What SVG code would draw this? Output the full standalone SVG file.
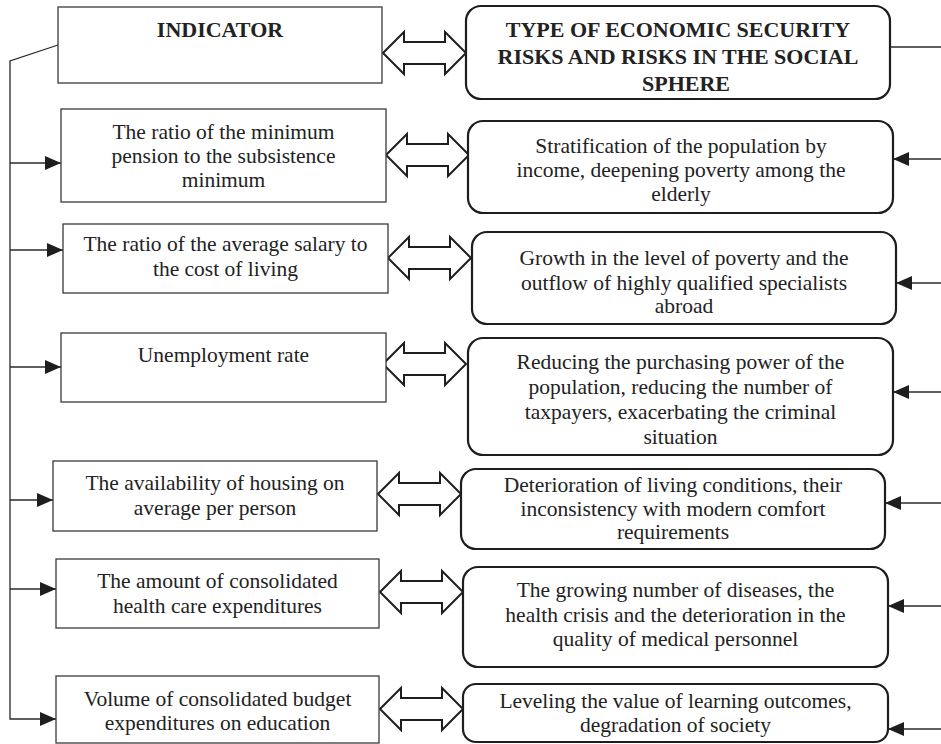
<svg xmlns="http://www.w3.org/2000/svg" width="941" height="744" viewBox="0 0 941 744">
<style>
.bg{fill:#fff}
.lb{fill:#fff;stroke:#3a3a3a;stroke-width:1.3}
.rb{fill:#fff;stroke:#1e1e1e;stroke-width:2.2}
.t{font-family:'Liberation Serif','DejaVu Serif',serif;font-size:21.5px;fill:#222;text-anchor:middle}
.b{font-family:'Liberation Serif','DejaVu Serif',serif;font-size:22px;font-weight:bold;fill:#222;text-anchor:middle}
.ln{fill:none;stroke:#2a2a2a;stroke-width:1.3}
.da{fill:#fff;stroke:#1e1e1e;stroke-width:2}
</style>
<defs>
<marker id="ah" markerUnits="userSpaceOnUse" markerWidth="16" markerHeight="14" refX="16" refY="7" orient="auto">
<path d="M0,0 L16,7 L0,14 Z" fill="#1e1e1e"/>
</marker>
<path id="dbl" d="M0,0 L21,-21 L21,-11 L62,-11 L62,-21 L83,0 L62,21 L62,11 L21,11 L21,21 Z"/>
</defs>
<rect class="bg" x="0" y="0" width="941" height="744"/>

<g id="connectors">
<polyline class="ln" points="58,45 10,61 10,719 56,719" marker-end="url(#ah)"/>
<line class="ln" x1="10" y1="163" x2="61" y2="163" marker-end="url(#ah)"/>
<line class="ln" x1="10" y1="250" x2="63" y2="250" marker-end="url(#ah)"/>
<line class="ln" x1="10" y1="367" x2="61" y2="367" marker-end="url(#ah)"/>
<line class="ln" x1="10" y1="500" x2="53" y2="500" marker-end="url(#ah)"/>
<line class="ln" x1="10" y1="589" x2="56" y2="589" marker-end="url(#ah)"/>
<line class="ln" x1="890" y1="47" x2="941" y2="47"/>
<line class="ln" x1="941" y1="159" x2="893" y2="159" marker-end="url(#ah)"/>
<line class="ln" x1="941" y1="283" x2="896" y2="283" marker-end="url(#ah)"/>
<line class="ln" x1="941" y1="392" x2="893" y2="392" marker-end="url(#ah)"/>
<line class="ln" x1="941" y1="503" x2="885" y2="503" marker-end="url(#ah)"/>
<line class="ln" x1="941" y1="606" x2="888" y2="606" marker-end="url(#ah)"/>
<line class="ln" x1="941" y1="729" x2="888" y2="729" marker-end="url(#ah)"/>
<use href="#dbl" class="da" transform="translate(383,53)"/>
<use href="#dbl" class="da" transform="translate(386,155)"/>
<use href="#dbl" class="da" transform="translate(388,258)"/>
<use href="#dbl" class="da" transform="translate(383,364)"/>
<use href="#dbl" class="da" transform="translate(378,494)"/>
<use href="#dbl" class="da" transform="translate(380,592)"/>
<use href="#dbl" class="da" transform="translate(380,709)"/>
</g>

<g id="indicator">
<rect class="lb" x="58" y="7" width="324" height="76"/>
<text class="b" x="220" y="37">INDICATOR</text>
</g>
<g id="ind-pension">
<rect class="lb" x="61" y="109" width="325" height="93"/>
<text class="t" x="223.5" y="139">The ratio of the minimum</text>
<text class="t" x="223.5" y="163">pension to the subsistence</text>
<text class="t" x="223.5" y="187">minimum</text>
</g>
<g id="ind-salary">
<rect class="lb" x="63" y="224" width="325" height="69"/>
<text class="t" x="225.5" y="251">The ratio of the average salary to</text>
<text class="t" x="225.5" y="276">the cost of living</text>
</g>
<g id="ind-unemployment">
<rect class="lb" x="61" y="333" width="325" height="69"/>
<text class="t" x="223.5" y="362">Unemployment rate</text>
</g>
<g id="ind-housing">
<rect class="lb" x="53" y="461" width="324" height="70"/>
<text class="t" x="215" y="490">The availability of housing on</text>
<text class="t" x="215" y="515">average per person</text>
</g>
<g id="ind-health">
<rect class="lb" x="56" y="559" width="323" height="69"/>
<text class="t" x="217.5" y="588">The amount of consolidated</text>
<text class="t" x="217.5" y="613">health care expenditures</text>
</g>
<g id="ind-education">
<rect class="lb" x="56" y="676" width="323" height="67"/>
<text class="t" x="217.5" y="706">Volume of consolidated budget</text>
<text class="t" x="217.5" y="730">expenditures on education</text>
</g>

<g id="risk-header">
<rect class="rb" x="466" y="6" width="424" height="93" rx="15"/>
<text class="b" x="678" y="37">TYPE OF ECONOMIC SECURITY</text>
<text class="b" x="678" y="64">RISKS AND RISKS IN THE SOCIAL</text>
<text class="b" x="686" y="91">SPHERE</text>
</g>
<g id="risk-stratification">
<rect class="rb" x="468" y="121" width="425" height="92" rx="15"/>
<text class="t" x="681" y="153">Stratification of the population by</text>
<text class="t" x="681" y="177">income, deepening poverty among the</text>
<text class="t" x="681" y="201">elderly</text>
</g>
<g id="risk-poverty">
<rect class="rb" x="472" y="232" width="424" height="92" rx="15"/>
<text class="t" x="684" y="265">Growth in the level of poverty and the</text>
<text class="t" x="684" y="290">outflow of highly qualified specialists</text>
<text class="t" x="684" y="313">abroad</text>
</g>
<g id="risk-purchasing">
<rect class="rb" x="468" y="338" width="425" height="117" rx="15"/>
<text class="t" x="680.5" y="369">Reducing the purchasing power of the</text>
<text class="t" x="680.5" y="394">population, reducing the number of</text>
<text class="t" x="680.5" y="419">taxpayers, exacerbating the criminal</text>
<text class="t" x="680.5" y="444">situation</text>
</g>
<g id="risk-living">
<rect class="rb" x="461" y="469" width="424" height="80" rx="15"/>
<text class="t" x="673" y="492">Deterioration of living conditions, their</text>
<text class="t" x="673" y="516">inconsistency with modern comfort</text>
<text class="t" x="673" y="539">requirements</text>
</g>
<g id="risk-health">
<rect class="rb" x="463" y="567" width="425" height="100" rx="15"/>
<text class="t" x="675.5" y="597">The growing number of diseases, the</text>
<text class="t" x="675.5" y="622">health crisis and the deterioration in the</text>
<text class="t" x="675.5" y="646">quality of medical personnel</text>
</g>
<g id="risk-education">
<rect class="rb" x="463" y="684" width="425" height="58" rx="13"/>
<text class="t" x="675.5" y="708">Leveling the value of learning outcomes,</text>
<text class="t" x="675.5" y="732">degradation of society</text>
</g>
</svg>
